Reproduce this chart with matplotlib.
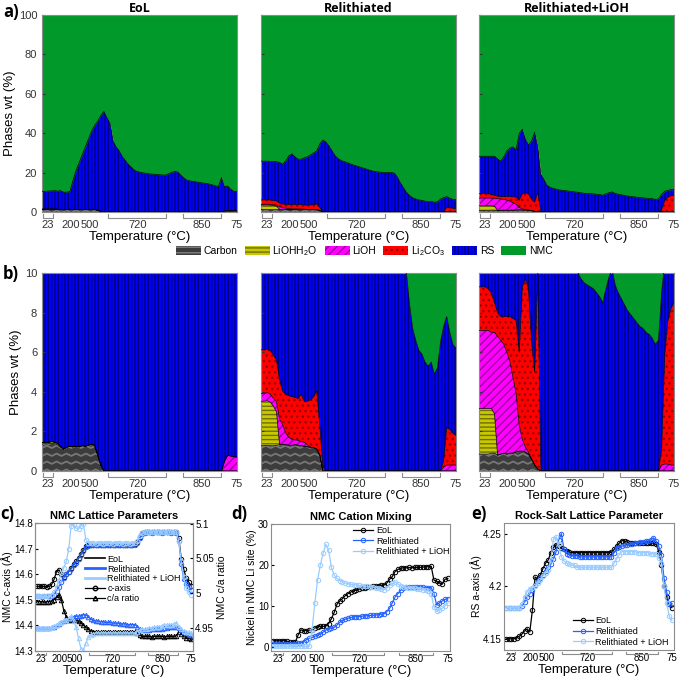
import matplotlib.pyplot as plt
import numpy as np
from matplotlib.lines import Line2D
from matplotlib.patches import Patch
from matplotlib.path import Path

plt.rcParams['font.family'] = ['Liberation Sans', 'DejaVu Sans']
plt.rcParams['mathtext.default'] = 'regular'
plt.rcParams['hatch.linewidth'] = 1.0

# ---------------------------------------------------------------------------
# data: one value per scan (64 scans through the heating / cooling program)
# ---------------------------------------------------------------------------
scan = np.arange(64)
temp_ticks = [1.7, 9.3, 15.5, 31, 51.5, 63]
temp_labels = ['23', '200', '500', '720', '850', '75']
holds = [(0.3, 3.5), (21.3, 40.1), (45.5, 57.8)]

phase_names = ['Carbon', 'LiOHH$_2$O', 'LiOH', 'Li$_2$CO$_3$', 'RS', 'NMC']

# --- EoL phase fractions (wt %)
carbon_eol = [1.35, 1.38, 1.36, 1.40, 1.38, 1.32, 1.20, 1.10, 1.20, 1.25,
              1.22, 1.25, 1.22, 1.28, 1.25, 1.30, 1.35, 1.30, 0.80, 0.30,
              0, 0, 0, 0, 0, 0, 0, 0, 0, 0,
              0, 0, 0, 0, 0, 0, 0, 0, 0, 0,
              0, 0, 0, 0, 0, 0, 0, 0, 0, 0,
              0, 0, 0, 0, 0, 0, 0, 0, 0, 0,
              0, 0, 0, 0]
liohh2o_eol = [0.08, 0.08, 0.08, 0.08, 0.08, 0.08, 0.04, 0, 0, 0,
               0, 0, 0, 0, 0, 0, 0, 0, 0, 0,
               0, 0, 0, 0, 0, 0, 0, 0, 0, 0,
               0, 0, 0, 0, 0, 0, 0, 0, 0, 0,
               0, 0, 0, 0, 0, 0, 0, 0, 0, 0,
               0, 0, 0, 0, 0, 0, 0, 0, 0, 0,
               0, 0, 0, 0]
lioh_eol = [0, 0, 0, 0, 0, 0, 0, 0, 0, 0,
            0, 0, 0, 0, 0, 0, 0, 0, 0, 0,
            0, 0, 0, 0, 0, 0, 0, 0, 0, 0,
            0, 0, 0, 0, 0, 0, 0, 0, 0, 0,
            0, 0, 0, 0, 0, 0, 0, 0, 0, 0,
            0, 0, 0, 0, 0, 0, 0, 0, 0, 0.50,
            0.80, 0.75, 0.72, 0.70]
li2co3_eol = [0, 0, 0, 0, 0, 0, 0, 0, 0, 0,
              0, 0, 0, 0, 0, 0, 0, 0, 0, 0,
              0, 0, 0, 0, 0, 0, 0, 0, 0, 0,
              0, 0, 0, 0, 0, 0, 0, 0, 0, 0,
              0, 0, 0, 0, 0, 0, 0, 0, 0, 0,
              0, 0, 0, 0, 0, 0, 0, 0, 0, 0,
              0, 0, 0, 0]
rs_eol = [9.07, 9.04, 9.16, 9.22, 9.34, 9.20, 9.56, 8.90, 8.90, 9.05,
          14.78, 19.75, 23.78, 27.72, 31.75, 35.70, 39.65, 42.70, 45.20, 48.70,
          51.0, 48.0, 45.0, 36.0, 33.0, 31.0, 28.0, 26.0, 24.0, 22.5,
          21.0, 20.5, 20.0, 19.8, 19.5, 19.3, 19.2, 19.0, 18.9, 18.8,
          18.7, 19.5, 20.2, 20.6, 20.2, 18.5, 17.0, 16.0, 15.7, 15.5,
          15.2, 15.0, 14.7, 14.5, 14.2, 13.8, 13.3, 12.9, 17.5, 12.3,
          12.4, 10.75, 9.78, 9.6]

# --- Relithiated phase fractions (wt %)
carbon_rel = [1.27, 1.28, 1.30, 1.28, 1.27, 1.30, 1.32, 1.33, 1.32, 1.30,
              1.30, 1.32, 1.30, 1.28, 1.25, 1.22, 1.20, 1.18, 1.10, 0.80,
              0, 0, 0, 0, 0, 0, 0, 0, 0, 0,
              0, 0, 0, 0, 0, 0, 0, 0, 0, 0,
              0, 0, 0, 0, 0, 0, 0, 0, 0, 0,
              0, 0, 0, 0, 0, 0, 0, 0, 0, 0,
              0, 0, 0, 0]
liohh2o_rel = [2.25, 2.25, 2.25, 2.20, 2.00, 1.70, 0, 0, 0, 0,
               0, 0, 0, 0, 0, 0, 0, 0, 0, 0,
               0, 0, 0, 0, 0, 0, 0, 0, 0, 0,
               0, 0, 0, 0, 0, 0, 0, 0, 0, 0,
               0, 0, 0, 0, 0, 0, 0, 0, 0, 0,
               0, 0, 0, 0, 0, 0, 0, 0, 0, 0,
               0, 0, 0, 0]
lioh_rel = [0.40, 0.40, 0.40, 0.40, 0.40, 0.50, 1.30, 1.00, 0.60, 0.40,
            0.30, 0.25, 0.25, 0.20, 0.20, 0.10, 0, 0, 0, 0,
            0, 0, 0, 0, 0, 0, 0, 0, 0, 0,
            0, 0, 0, 0, 0, 0, 0, 0, 0, 0,
            0, 0, 0, 0, 0, 0, 0, 0, 0, 0,
            0, 0, 0, 0, 0, 0, 0, 0, 0, 0.20,
            0.30, 0.30, 0.30, 0.30]
li2co3_rel = [2.20, 2.20, 2.20, 2.20, 2.20, 2.10, 2.00, 1.70, 1.95, 2.10,
              2.15, 2.15, 2.10, 2.40, 2.05, 2.20, 2.40, 2.55, 2.95, 1.50,
              0.20, 0, 0, 0, 0, 0, 0, 0, 0, 0,
              0, 0, 0, 0, 0, 0, 0, 0, 0, 0,
              0, 0, 0, 0, 0, 0, 0, 0, 0, 0,
              0, 0, 0, 0, 0, 0, 0, 0, 0, 0.30,
              1.90, 1.80, 1.60, 1.50]
rs_rel = [19.68, 19.67, 19.65, 19.62, 19.73, 19.90, 20.58, 20.17, 22.13, 24.70,
          25.75, 24.28, 23.15, 22.92, 24.00, 24.48, 25.40, 26.27, 26.95, 32.20,
          36.30, 35.5, 33.5, 31.0, 28.5, 27.0, 26.0, 25.5, 25.0, 24.3,
          23.8, 23.3, 22.8, 22.3, 21.8, 21.3, 20.8, 20.5, 20.3, 20.2,
          20.1, 20.1, 20.0, 19.8, 18.0, 15.0, 12.5, 10.0, 8.4, 7.2,
          6.6, 6.1, 5.9, 5.5, 5.3, 5.5, 4.9, 5.2, 6.5, 6.8,
          5.6, 4.9, 4.5, 4.4]

# --- Relithiated + LiOH phase fractions (wt %)
carbon_lioh = [0.85, 0.85, 0.85, 0.85, 0.90, 0.90, 0.80, 0.85, 0.90, 0.85,
               0.90, 0.90, 0.95, 1.00, 1.00, 0.95, 0.85, 0.60, 0.30, 0.10,
               0, 0, 0, 0, 0, 0, 0, 0, 0, 0,
               0, 0, 0, 0, 0, 0, 0, 0, 0, 0,
               0, 0, 0, 0, 0, 0, 0, 0, 0, 0,
               0, 0, 0, 0, 0, 0, 0, 0, 0, 0,
               0, 0, 0, 0]
liohh2o_lioh = [2.30, 2.30, 2.30, 2.30, 2.25, 2.00, 0, 0, 0, 0,
                0, 0, 0, 0, 0, 0, 0, 0, 0, 0,
                0, 0, 0, 0, 0, 0, 0, 0, 0, 0,
                0, 0, 0, 0, 0, 0, 0, 0, 0, 0,
                0, 0, 0, 0, 0, 0, 0, 0, 0, 0,
                0, 0, 0, 0, 0, 0, 0, 0, 0, 0,
                0, 0, 0, 0]
lioh_lioh = [3.95, 3.95, 3.95, 3.95, 3.85, 4.10, 6.00, 5.75, 5.50, 5.15,
             4.60, 3.80, 2.95, 1.30, 0.60, 0.25, 0.10, 0, 0, 0,
             0, 0, 0, 0, 0, 0, 0, 0, 0, 0,
             0, 0, 0, 0, 0, 0, 0, 0, 0, 0,
             0, 0, 0, 0, 0, 0, 0, 0, 0, 0,
             0, 0, 0, 0, 0, 0, 0, 0, 0, 0.30,
             0.35, 0.35, 0.30, 0.30]
li2co3_lioh = [2.20, 2.20, 2.20, 2.10, 2.00, 1.50, 1.20, 1.20, 1.40, 1.80,
               2.30, 3.00, 3.70, 3.70, 7.70, 8.50, 8.25, 5.90, 4.70, 9.90,
               0, 0, 0, 0, 0, 0, 0, 0, 0, 0,
               0, 0, 0, 0, 0, 0, 0, 0, 0, 0,
               0, 0, 0, 0, 0, 0, 0, 0, 0, 0,
               0, 0, 0, 0, 0, 0, 0, 0, 0, 0.80,
               5.50, 7.20, 7.90, 8.20]
rs_lioh = [19.0, 19.0, 19.0, 19.1, 19.3, 19.8, 19.0, 18.0, 20.2, 23.2,
           24.7, 25.3, 23.9, 34.0, 32.7, 27.3, 24.8, 29.5, 35.5, 23.0,
           19.0, 16.5, 13.5, 12.5, 12.0, 11.5, 11.2, 11.0, 10.8, 10.6,
           10.4, 10.2, 10.0, 9.7, 9.5, 9.4, 9.3, 9.2, 9.0, 8.8,
           8.5, 9.2, 9.8, 10.2, 9.4, 9.0, 8.7, 8.4, 8.1, 7.9,
           7.7, 7.5, 7.3, 7.2, 7.0, 6.9, 6.7, 6.4, 6.6, 7.9,
           4.65, 3.45, 3.1, 3.0]

# --- NMC c-axis (A)
caxis_eol = [14.552, 14.552, 14.553, 14.552, 14.551, 14.552, 14.560, 14.580, 14.610, 14.617,
             14.600, 14.590, 14.600, 14.610, 14.625, 14.640, 14.650, 14.665, 14.680, 14.695,
             14.710, 14.715, 14.716, 14.715, 14.715, 14.716, 14.715, 14.715, 14.714, 14.715,
             14.715, 14.716, 14.715, 14.715, 14.715, 14.714, 14.715, 14.716, 14.715, 14.716,
             14.718, 14.725, 14.745, 14.760, 14.765, 14.765, 14.766, 14.765, 14.765, 14.766,
             14.765, 14.765, 14.766, 14.765, 14.765, 14.766, 14.765, 14.764, 14.740, 14.660,
             14.620, 14.585, 14.570, 14.555]
caxis_rel = [14.513, 14.513, 14.512, 14.513, 14.513, 14.514, 14.516, 14.520, 14.535, 14.550,
             14.570, 14.585, 14.600, 14.610, 14.620, 14.635, 14.645, 14.660, 14.675, 14.690,
             14.705, 14.712, 14.714, 14.714, 14.713, 14.714, 14.714, 14.713, 14.714, 14.714,
             14.713, 14.714, 14.714, 14.714, 14.713, 14.714, 14.714, 14.713, 14.714, 14.714,
             14.715, 14.720, 14.740, 14.758, 14.762, 14.763, 14.763, 14.762, 14.763, 14.763,
             14.763, 14.762, 14.763, 14.763, 14.763, 14.762, 14.763, 14.762, 14.730, 14.640,
             14.580, 14.560, 14.550, 14.540]
caxis_lioh = [14.513, 14.513, 14.514, 14.513, 14.513, 14.512, 14.520, 14.530, 14.550, 14.575,
              14.605, 14.625, 14.650, 14.700, 14.790, 14.795, 14.780, 14.778, 14.790, 14.795,
              14.735, 14.722, 14.720, 14.720, 14.719, 14.720, 14.720, 14.719, 14.720, 14.720,
              14.720, 14.719, 14.720, 14.720, 14.720, 14.719, 14.720, 14.720, 14.719, 14.720,
              14.721, 14.730, 14.750, 14.760, 14.765, 14.765, 14.765, 14.764, 14.765, 14.765,
              14.765, 14.764, 14.765, 14.765, 14.765, 14.764, 14.765, 14.764, 14.730, 14.650,
              14.590, 14.545, 14.530, 14.520]

# --- NMC c/a ratio
ca_ratio_eol = [4.988, 4.988, 4.988, 4.987, 4.988, 4.988, 4.989, 4.991, 4.994, 4.998,
                4.990, 4.975, 4.966, 4.961, 4.962, 4.962, 4.961, 4.960, 4.957, 4.954,
                4.951, 4.948, 4.946, 4.945, 4.945, 4.945, 4.944, 4.945, 4.945, 4.945,
                4.945, 4.944, 4.945, 4.945, 4.945, 4.945, 4.944, 4.945, 4.945, 4.945,
                4.945, 4.943, 4.940, 4.938, 4.938, 4.938, 4.938, 4.937, 4.938, 4.938,
                4.938, 4.938, 4.937, 4.938, 4.938, 4.938, 4.938, 4.939, 4.945, 4.942,
                4.938, 4.936, 4.935, 4.934]
ca_ratio_rel = [4.950, 4.950, 4.950, 4.950, 4.950, 4.950, 4.951, 4.952, 4.954, 4.956,
                4.958, 4.960, 4.962, 4.963, 4.965, 4.966, 4.967, 4.967, 4.968, 4.969,
                4.969, 4.966, 4.963, 4.961, 4.960, 4.960, 4.959, 4.959, 4.958, 4.958,
                4.958, 4.957, 4.957, 4.957, 4.956, 4.956, 4.956, 4.955, 4.955, 4.955,
                4.955, 4.952, 4.949, 4.947, 4.947, 4.947, 4.947, 4.948, 4.948, 4.948,
                4.949, 4.949, 4.950, 4.950, 4.951, 4.951, 4.952, 4.952, 4.950, 4.947,
                4.945, 4.943, 4.941, 4.940]
ca_ratio_lioh = [4.950, 4.950, 4.950, 4.950, 4.950, 4.950, 4.951, 4.953, 4.955, 4.957,
                 4.959, 4.961, 4.962, 4.964, 4.967, 4.960, 4.952, 4.935, 4.920, 4.919,
                 4.928, 4.937, 4.940, 4.942, 4.943, 4.943, 4.943, 4.943, 4.943, 4.943,
                 4.943, 4.943, 4.943, 4.943, 4.943, 4.943, 4.943, 4.943, 4.943, 4.943,
                 4.943, 4.945, 4.947, 4.948, 4.948, 4.949, 4.950, 4.950, 4.951, 4.952,
                 4.952, 4.953, 4.954, 4.954, 4.955, 4.955, 4.956, 4.957, 4.952, 4.948,
                 4.946, 4.945, 4.944, 4.943]

# --- Ni in NMC Li site (%)
mixing_eol = [1.5, 1.5, 1.5, 1.5, 1.5, 1.4, 1.1, 1.1, 1.2, 2.9,
              4.2, 3.9, 4.0, 4.1, 4.2, 4.6, 4.9, 5.0, 5.0, 5.1,
              5.7, 6.9, 8.4, 10.4, 11.2, 11.8, 12.5, 13.0, 13.4, 13.7,
              13.9, 14.1, 14.3, 14.5, 14.6, 14.7, 14.8, 14.9, 14.9, 15.0,
              15.1, 15.6, 16.5, 17.2, 18.4, 18.9, 19.2, 19.3, 19.3, 19.4,
              19.3, 19.4, 19.4, 19.4, 19.5, 19.5, 19.6, 19.7, 16.3, 16.0,
              15.6, 15.3, 16.5, 16.7]
mixing_rel = [0.7, 0.7, 0.6, 0.7, 0.6, 0.6, 0.7, 0.8, 0.8, 0.9,
              1.0, 1.3, 1.8, 2.1, 2.3, 2.6, 2.9, 3.1, 3.6, 4.1,
              4.4, 4.6, 4.8, 5.3, 6.0, 6.5, 6.8, 7.0, 7.2, 7.3,
              7.4, 7.4, 7.5, 7.6, 7.6, 7.7, 7.7, 7.8, 7.9, 8.0,
              8.1, 8.6, 9.4, 10.8, 12.2, 13.0, 13.8, 14.4, 14.7, 14.7,
              14.7, 14.6, 14.7, 14.6, 14.6, 14.5, 14.5, 14.5, 13.0, 10.2,
              10.8, 11.2, 11.6, 11.8]
mixing_lioh = [0.1, 0.1, 0.1, 0.1, 0.1, 0.1, 0.1, 0.2, 0.2, 0.1,
               0.1, 0.1, 0.1, 0.1, 4.1, 10.6, 16.3, 20.0, 22.8, 25.0,
               23.6, 19.4, 17.5, 16.7, 16.2, 15.9, 15.6, 15.4, 15.3, 15.2,
               15.1, 15.0, 14.9, 14.8, 14.8, 14.7, 14.7, 14.5, 14.3, 14.1,
               14.0, 14.3, 15.0, 15.5, 15.9, 15.4, 14.9, 14.7, 14.6, 14.5,
               14.4, 14.3, 14.2, 14.1, 14.0, 13.8, 13.7, 13.0, 9.8, 8.7,
               9.0, 9.4, 10.0, 10.6]

# --- rock-salt a-axis (A)
rs_a_eol = [4.1506, 4.1506, 4.1505, 4.1507, 4.1516, 4.1530, 4.1550, 4.1580, 4.1600, 4.1570,
            4.1780, 4.2090, 4.2070, 4.2110, 4.2170, 4.2220, 4.2250, 4.2320, 4.2370, 4.2396,
            4.2380, 4.2360, 4.2350, 4.2340, 4.2322, 4.2320, 4.2321, 4.2320, 4.2318, 4.2320,
            4.2321, 4.2320, 4.2319, 4.2320, 4.2321, 4.2320, 4.2318, 4.2320, 4.2321, 4.2320,
            4.2322, 4.2350, 4.2380, 4.2410, 4.2434, 4.2430, 4.2420, 4.2412, 4.2410, 4.2411,
            4.2410, 4.2409, 4.2410, 4.2411, 4.2410, 4.2410, 4.2409, 4.2405, 4.2330, 4.2200,
            4.2000, 4.1900, 4.1830, 4.1800]
rs_a_rel = [4.180, 4.180, 4.180, 4.180, 4.180, 4.180, 4.182, 4.185, 4.190, 4.193,
            4.197, 4.201, 4.205, 4.208, 4.211, 4.215, 4.218, 4.221, 4.226, 4.233,
            4.244, 4.250, 4.235, 4.231, 4.230, 4.229, 4.229, 4.229, 4.228, 4.228,
            4.228, 4.228, 4.228, 4.228, 4.228, 4.228, 4.228, 4.228, 4.228, 4.228,
            4.228, 4.232, 4.236, 4.237, 4.238, 4.239, 4.239, 4.240, 4.240, 4.241,
            4.241, 4.242, 4.242, 4.243, 4.243, 4.244, 4.246, 4.243, 4.238, 4.230,
            4.208, 4.195, 4.183, 4.184]
rs_a_lioh = [4.180, 4.180, 4.180, 4.180, 4.180, 4.180, 4.183, 4.190, 4.195, 4.198,
             4.199, 4.200, 4.203, 4.206, 4.210, 4.213, 4.216, 4.225, 4.245, 4.247,
             4.240, 4.228, 4.224, 4.222, 4.221, 4.220, 4.220, 4.218, 4.218, 4.218,
             4.218, 4.218, 4.218, 4.218, 4.218, 4.218, 4.218, 4.218, 4.218, 4.218,
             4.218, 4.222, 4.226, 4.230, 4.233, 4.233, 4.233, 4.233, 4.233, 4.233,
             4.232, 4.232, 4.232, 4.232, 4.232, 4.231, 4.231, 4.231, 4.227, 4.222,
             4.200, 4.184, 4.172, 4.168]

samples = ['EoL', 'Relithiated', 'Relithiated+LiOH']
phase_sets = [
    [carbon_eol, liohh2o_eol, lioh_eol, li2co3_eol, rs_eol],
    [carbon_rel, liohh2o_rel, lioh_rel, li2co3_rel, rs_rel],
    [carbon_lioh, liohh2o_lioh, lioh_lioh, li2co3_lioh, rs_lioh],
]

# styles
FACE = ['#3c3c3c', '#c8c800', '#ff00ff', '#ff0000', '#0000ff', '#00992a']
HATCH = [None, '----', '////', '...', '|||||', None]
HCOL = ['#3c3c3c', '#6f6f00', '#9a009a', '#990000', '#00007a', '#00992a']
C_EOL = 'black'
C_REL = '#2462ff'
C_LIOH = '#99ccff'
SPINE = '#8c8c8c'


def zigzag(ax, poly):
    paths = poly.get_paths()
    if not paths:
        return
    clip = Path.make_compound_path(*paths)
    xs = np.linspace(0, 1, 41)
    ys = 0.012 * (np.arange(41) % 2)
    for y0 in np.arange(-0.004, 0.2, 0.04):
        ln, = ax.plot(xs, ys + y0, transform=ax.transAxes, color='#777777',
                      lw=1.3, zorder=2)
        ln.set_clip_path(clip, ax.transData)


def temp_axis(ax, xlim, size, lab_size, depth, pad):
    ax.set_xlim(*xlim)
    ax.set_xticks(temp_ticks)
    ax.set_xticklabels(temp_labels, fontsize=size)
    ax.tick_params(axis='x', length=0, pad=pad)
    ax.set_xlabel('Temperature (°C)', fontsize=lab_size, labelpad=0.5)
    trans = ax.get_xaxis_transform()
    for x0, x1 in holds:
        ax.plot([x0, x0, x1, x1], [-0.012, -depth, -depth, -0.012], transform=trans,
                color='#8c8c8c', lw=0.8, clip_on=False)
    for s in ax.spines.values():
        s.set_color(SPINE)
        s.set_linewidth(0.8)


def stacked(ax, layers, ymax, show_y):
    bottom = np.zeros(len(scan))
    nmc = 100 - np.sum(layers, axis=0)
    for i, vals in enumerate(layers + [nmc]):
        top = bottom + np.asarray(vals, dtype=float)
        poly = ax.fill_between(scan, bottom, top, facecolor=FACE[i], edgecolor=HCOL[i],
                               hatch=HATCH[i], linewidth=0, zorder=1)
        if i == 0:
            zigzag(ax, poly)
        if i < 5:
            ax.plot(scan, top, color='black', lw=0.5, zorder=3)
        bottom = top
    ax.set_ylim(0, ymax)
    temp_axis(ax, (0, 63), 8, 9.5, 0.028, 6)
    ax.tick_params(axis='y', direction='in', length=2, labelsize=8, colors='#333333')
    ax.tick_params(axis='x', colors='#333333')
    if show_y:
        ax.set_ylabel('Phases wt (%)', fontsize=9.5, labelpad=2)
    else:
        ax.set_yticklabels([])


fig = plt.figure(figsize=(6.81, 6.80), dpi=100)

lefts = [42 / 681, 261 / 681, 479 / 681]
w_ab = 195 / 681
for j in range(3):
    ax_a = fig.add_axes([lefts[j], 1 - 212 / 680, w_ab, 197 / 680])
    stacked(ax_a, phase_sets[j], 100, j == 0)
    ax_a.set_yticks([0, 20, 40, 60, 80, 100])
    ax_a.set_title(samples[j], fontsize=9, fontweight='bold', family='Open Sans', pad=2)
    ax_b = fig.add_axes([lefts[j], 1 - 471 / 680, w_ab, 198 / 680])
    stacked(ax_b, phase_sets[j], 10, j == 0)
    ax_b.set_yticks([0, 2, 4, 6, 8, 10])

# phase legend between a) and b)
handles = [Patch(facecolor=FACE[i], edgecolor=HCOL[i], hatch=HATCH[i], linewidth=0)
           for i in range(6)]
handles[0] = Patch(facecolor='#3c3c3c', edgecolor='#808080', hatch='---', linewidth=0)
fig.legend(handles, phase_names, loc='center', bbox_to_anchor=(0.535, 1 - 251 / 680),
           ncol=6, frameon=False, fontsize=7.5, handlelength=2.4, handleheight=0.9,
           handletextpad=0.25, columnspacing=0.7, borderaxespad=0)

# ---------------------------------------------------------------------------
# c) NMC lattice parameters
# ---------------------------------------------------------------------------
mk = dict(ms=3.2, mfc='none', mew=0.7, lw=0.9)
axc = fig.add_axes([35 / 681, 1 - 651 / 680, 158 / 681, 128 / 680])
axc2 = axc.twinx()
for vals, col in [(caxis_eol, C_EOL), (caxis_rel, C_REL), (caxis_lioh, C_LIOH)]:
    axc.plot(scan, vals, '-o', color=col, **mk)
for vals, col in [(ca_ratio_eol, C_EOL), (ca_ratio_rel, C_REL), (ca_ratio_lioh, C_LIOH)]:
    axc2.plot(scan, vals, '-^', color=col, **mk)
axc.set_ylim(14.3, 14.8)
axc.set_yticks([14.3, 14.4, 14.5, 14.6, 14.7, 14.8])
axc.set_yticklabels(['14.3', '14.4', '14.5', '14.6', '14.7', '14.8'])
axc2.set_ylim(4.917, 5.101)
axc2.set_yticks([4.95, 5.0, 5.05, 5.1])
axc2.set_yticklabels(['4.95', '5', '5.05', '5.1'])
axc.set_ylabel('NMC c-axis (Å)', fontsize=7.5, labelpad=1)
axc2.set_ylabel('NMC c/a ratio', fontsize=7.5, labelpad=2)
axc.set_title('NMC Lattice Parameters', fontsize=8, fontweight='bold', pad=3)
c_handles = [Line2D([], [], color=C_EOL, lw=1.2),
             Line2D([], [], color=C_REL, lw=2),
             Line2D([], [], color=C_LIOH, lw=2),
             Line2D([], [], color='black', marker='o', mfc='none', ms=3.2, lw=0.9),
             Line2D([], [], color='black', marker='^', mfc='none', ms=3.2, lw=0.9)]
axc.legend(c_handles, ['EoL', 'Relithiated', 'Relithiated + LiOH', 'c-axis', 'c/a ratio'],
           loc='upper left', bbox_to_anchor=(0.31, 0.76), frameon=False, fontsize=6.5,
           handlelength=2.2, labelspacing=0.1, handletextpad=0.3, borderaxespad=0,
           borderpad=0.1)

# ---------------------------------------------------------------------------
# d) cation mixing
# ---------------------------------------------------------------------------
axd = fig.add_axes([271 / 681, 1 - 651 / 680, 179 / 681, 127 / 680])
axd.plot(scan, mixing_eol, '-o', color=C_EOL, label='EoL', **mk)
axd.plot(scan, mixing_rel, '-o', color=C_REL, label='Relithiated', **mk)
axd.plot(scan, mixing_lioh, '-o', color=C_LIOH, label='Relithiated + LiOH', **mk)
axd.set_ylim(-1, 30)
axd.set_yticks([0, 10, 20, 30])
axd.set_ylabel('Nickel in NMC Li site (%)', fontsize=7.5, labelpad=1)
axd.set_title('NMC Cation Mixing', fontsize=8, fontweight='bold', pad=3)
axd.legend(loc='upper left', bbox_to_anchor=(0.45, 1.0), frameon=False, fontsize=6.5,
           handlelength=2.2, labelspacing=0.2, handletextpad=0.3, borderaxespad=0.1,
           borderpad=0.1)

# ---------------------------------------------------------------------------
# e) rock-salt lattice parameter
# ---------------------------------------------------------------------------
axe = fig.add_axes([504 / 681, 1 - 650 / 680, 170 / 681, 127 / 680])
axe.plot(scan, rs_a_eol, '-o', color=C_EOL, label='EoL', **mk)
axe.plot(scan, rs_a_rel, '-o', color=C_REL, label='Relithiated', **mk)
axe.plot(scan, rs_a_lioh, '-o', color=C_LIOH, label='Relithiated + LiOH', **mk)
axe.set_ylim(4.14, 4.26)
axe.set_yticks([4.15, 4.2, 4.25])
axe.set_yticklabels(['4.15', '4.2', '4.25'])
axe.set_ylabel('RS a-axis (Å)', fontsize=7.5, labelpad=1)
axe.set_title('Rock-Salt Lattice Parameter', fontsize=8, fontweight='bold', pad=3)
axe.legend(loc='lower left', bbox_to_anchor=(0.40, 0.02), frameon=False, fontsize=6.5,
           handlelength=2.2, labelspacing=0.2, handletextpad=0.3, borderaxespad=0,
           borderpad=0.1)

for ax in [axc, axd, axe]:
    temp_axis(ax, (-0.8, 63.8), 7, 9.5, 0.035, 2.5)
    ax.tick_params(axis='y', direction='in', length=2, labelsize=7, pad=1.5)
axc2.tick_params(axis='y', direction='in', length=2, labelsize=7, pad=1.5)
for s in axc2.spines.values():
    s.set_color(SPINE)
    s.set_linewidth(0.8)

# panel letters
for lab, x, y in [('a)', 3, 12), ('b)', 3, 274), ('c)', 0, 514), ('d)', 231, 514), ('e)', 471, 514)]:
    fig.text(x / 681, 1 - y / 680, lab, fontsize=12, fontweight='bold', va='center',
             family=['Open Sans', 'DejaVu Sans'])

fig.savefig('out.png', dpi=100)
